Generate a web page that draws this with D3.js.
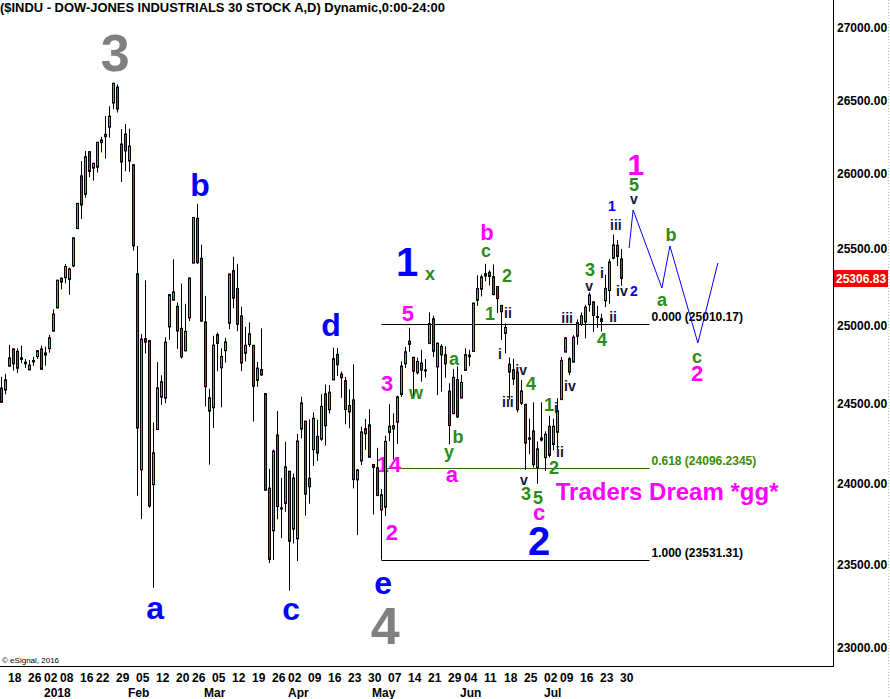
<!DOCTYPE html>
<html>
<head>
<meta charset="utf-8">
<script src="https://cdn.jsdelivr.net/npm/d3@7/dist/d3.min.js"></script>
<style>
  body { margin: 0; background: #fff; }
  svg { display: block; font-family: "Liberation Sans", Arial, sans-serif; font-weight: bold; }
</style>
</head>
<body>
<svg width="890" height="699"></svg>
<script>
// daily bars, $INDU
var dates = ["2017-12-13","2017-12-14","2017-12-15","2017-12-18","2017-12-19","2017-12-20","2017-12-21","2017-12-22","2017-12-26","2017-12-27","2017-12-28","2017-12-29",
  "2018-01-02","2018-01-03","2018-01-04","2018-01-05","2018-01-08","2018-01-09","2018-01-10","2018-01-11","2018-01-12","2018-01-16","2018-01-17","2018-01-18","2018-01-19","2018-01-22","2018-01-23","2018-01-24","2018-01-25","2018-01-26","2018-01-29","2018-01-30","2018-01-31",
  "2018-02-01","2018-02-02","2018-02-05","2018-02-06","2018-02-07","2018-02-08","2018-02-09","2018-02-12","2018-02-13","2018-02-14","2018-02-15","2018-02-16","2018-02-20","2018-02-21","2018-02-22","2018-02-23","2018-02-26","2018-02-27","2018-02-28",
  "2018-03-01","2018-03-02","2018-03-05","2018-03-06","2018-03-07","2018-03-08","2018-03-09","2018-03-12","2018-03-13","2018-03-14","2018-03-15","2018-03-16","2018-03-19","2018-03-20","2018-03-21","2018-03-22","2018-03-23","2018-03-26","2018-03-27","2018-03-28","2018-03-29",
  "2018-04-02","2018-04-03","2018-04-04","2018-04-05","2018-04-06","2018-04-09","2018-04-10","2018-04-11","2018-04-12","2018-04-13","2018-04-16","2018-04-17","2018-04-18","2018-04-19","2018-04-20","2018-04-23","2018-04-24","2018-04-25","2018-04-26","2018-04-27","2018-04-30",
  "2018-05-01","2018-05-02","2018-05-03","2018-05-04","2018-05-07","2018-05-08","2018-05-09","2018-05-10","2018-05-11","2018-05-14","2018-05-15","2018-05-16","2018-05-17","2018-05-18","2018-05-21","2018-05-22","2018-05-23","2018-05-24","2018-05-25","2018-05-29","2018-05-30","2018-05-31",
  "2018-06-01","2018-06-04","2018-06-05","2018-06-06","2018-06-07","2018-06-08","2018-06-11","2018-06-12","2018-06-13","2018-06-14","2018-06-15","2018-06-18","2018-06-19","2018-06-20","2018-06-21","2018-06-22","2018-06-25","2018-06-26","2018-06-27","2018-06-28","2018-06-29",
  "2018-07-02","2018-07-03","2018-07-05","2018-07-06","2018-07-09","2018-07-10","2018-07-11","2018-07-12","2018-07-13","2018-07-16","2018-07-17","2018-07-18","2018-07-19","2018-07-20","2018-07-23","2018-07-24","2018-07-25","2018-07-26","2018-07-27","2018-07-30"];

var opens = [24635,24600,24587,24739,24850,24834,24793,24765,24715,24766,24800,24850,
  24810,24851,24964,25115,25309,25312,25300,25389,25635,25987,25863,26150,26039,26045,26229,26268,26316,26481,26591,26202,26270,
  26087,26062,25338,24085,24916,24903,23992,24337,24541,24535,24991,25165,25125,24982,24837,25050,25407,25703,25439,
  25024,24453,24475,24942,24729,24838,25015,25358,25241,25063,24822,24878,24873,24648,24717,24564,23971,23708,24303,23842,23876,
  24076,23718,23659,24340,24390,24033,24211,24294,24276,24563,24462,24651,24815,24688,24647,24489,24524,24022,24140,24342,24367,
  24118,24098,23836,23853,24319,24341,24383,24559,24754,24879,24796,24697,24759,24713,24884,25044,24734,24866,24812,24580,24437,24654,
  24536,24712,24810,24833,25164,25236,25338,25347,25318,25254,25131,24949,24752,24716,24700,24503,24496,24276,24328,24095,24284,
  24161,24357,24243,24320,24526,24829,24787,24765,24931,25007,25023,25135,25154,25058,25027,25161,25227,25440,25525,25435];

var highs = [24669,24671,24690,24876,24851,24853,24871,24784,24778,24799,24840,24871,
  24864,24941,25105,25299,25311,25401,25378,25575,25804,26086,26154,26153,26072,26215,26251,26392,26459,26617,26609,26303,26338,
  26306,26062,25520,24946,25294,24904,24382,24765,24681,24925,25201,25432,25151,25273,25141,25310,25709,25800,25529,
  25193,24595,24934,24955,24853,24921,25336,25449,25402,25122,24992,25021,24873,24766,24982,24564,24092,24211,24454,24034,24260,
  24076,24062,24309,24545,24390,24401,24445,24399,24561,24622,24619,24858,24857,24705,24670,24591,24751,24089,24354,24404,24465,
  24118,24222,23966,24298,24497,24439,24551,24770,24863,24986,24796,24794,24844,24784,25086,25064,24892,24880,24866,24630,24722,24739,
  24684,24854,24844,25146,25327,25331,25402,25360,25399,25254,25131,25014,24795,24787,24718,24651,24496,24405,24509,24262,24509,
  24326,24424,24405,24535,24798,24926,24797,24938,25040,25085,25135,25216,25157,25128,25077,25331,25434,25595,25559,25501];

var lows = [24577,24508,24559,24739,24711,24695,24759,24728,24715,24741,24785,24719,
  24742,24825,24963,25112,25235,25275,25200,25380,25636,25698,25841,25978,25955,26009,26145,26103,26245,26439,26416,25946,26018,
  26014,25490,23924,23779,24820,23849,23361,24337,24491,24502,24908,25165,24850,24787,24835,25029,25407,25402,25023,
  24483,24117,24347,24706,24477,24761,24977,25112,24963,24707,24769,24863,24387,24607,24677,23955,23510,23529,23778,23663,23825,
  23344,23630,23523,24281,23801,23875,24109,24140,24266,24237,24438,24651,24676,24537,24370,24345,23969,23681,24114,24209,24163,
  23808,23921,23531,23797,24263,24149,24246,24543,24727,24831,24552,24686,24640,24666,24884,24798,24554,24577,24665,24244,24437,24409,
  24536,24712,24740,24833,25127,25189,25289,25261,25197,25082,24907,24820,24527,24619,24445,24491,24084,24182,24098,23998,24262,
  24077,24161,24206,24214,24526,24829,24681,24765,24876,24997,24918,25090,24959,24985,24962,25120,25142,25432,25388,25260];

var closes = [24585,24509,24652,24792,24754,24726,24782,24754,24746,24775,24838,24719,
  24824,24922,25075,25295,25283,25385,25369,25574,25803,25792,26116,26017,26072,26214,26211,26252,26392,26617,26440,26080,26155,
  26188,25521,24346,24913,24893,23860,24191,24601,24640,24893,25201,25219,24965,24798,24963,25310,25709,25410,25029,
  24608,24538,24874,24885,24801,24895,25336,25178,25008,24759,24873,24947,24611,24727,24683,23958,23533,24202,23857,23849,24103,
  23644,24034,24265,24505,23933,23979,24408,24189,24483,24360,24573,24787,24748,24665,24463,24448,24024,24084,24322,24311,24163,
  24100,23925,23930,24263,24358,24361,24543,24740,24831,24899,24706,24769,24714,24715,25013,24834,24886,24811,24753,24362,24668,24416,
  24635,24813,24799,25146,25241,25317,25322,25320,25201,25175,25090,24988,24701,24657,24462,24581,24252,24284,24117,24216,24271,
  24307,24175,24357,24456,24776,24920,24700,24925,25019,25064,25120,25199,25065,25058,25044,25242,25415,25527,25451,25306.83];

var yTicks = [23000, 23500, 24000, 24500, 25000, 25500, 26000, 26500, 27000];

var weekTickDates = ["2017-12-18","2017-12-26","2018-01-02","2018-01-08","2018-01-16","2018-01-22","2018-01-29","2018-02-05","2018-02-12","2018-02-20","2018-02-26",
  "2018-03-05","2018-03-12","2018-03-19","2018-03-26","2018-04-02","2018-04-09","2018-04-16","2018-04-23","2018-04-30","2018-05-07","2018-05-14","2018-05-21","2018-05-29",
  "2018-06-04","2018-06-11","2018-06-18","2018-06-25","2018-07-02","2018-07-09","2018-07-16","2018-07-23","2018-07-30"];
var monthTickDates = ["2018-01-02","2018-02-01","2018-03-01","2018-04-02","2018-05-01","2018-06-01","2018-07-02"];
var monthTickLabels = ["2018","Feb","Mar","Apr","May","Jun","Jul"];

// fibonacci retracement (May 3 low to high)
var fibHigh = 25010.17, fibLow = 23531.31;
var fibRatios = [0, 0.618, 1];
var fibLabels = ["0.000 (25010.17)", "0.618 (24096.2345)", "1.000 (23531.31)"];
var fibStartDay = 96, fibEndDay = 163;

// projected path after last bar (bar index, price)
var projDays = [157.9, 158.9, 166.1, 168.1, 175.1, 180.1];
var projPrices = [25507, 25759, 25244, 25520, 24888, 25408];

// wave labels: text, bar index, price, degree
var waveLabels = [
  ["3", 29.4, 26833, "cycle"], ["4", 96.9, 23137, "cycle"],
  ["a", 39.4, 23245, "primary"], ["b", 50.6, 25926, "primary"], ["c", 73.4, 23239, "primary"],
  ["d", 83.4, 25010, "primary"], ["e", 96.4, 23396, "primary"],
  ["1", 102.4, 25414, "primaryNum"], ["2", 135.4, 23650, "primaryNum"],
  ["1", 159.6, 26067, "interBig"],
  ["5", 102.6, 25082, "inter"], ["3", 97.4, 24631, "inter"], ["14", 97.9, 24121, "inter"], ["2", 98.6, 23700, "inter"],
  ["a", 113.6, 24059, "inter"], ["b", 122.4, 25612, "inter"], ["c", 135.4, 23825, "inter"], ["2", 174.9, 24695, "inter"],
  ["w", 104.6, 24574, "minor"], ["x", 108.1, 25342, "minor"], ["a", 114.1, 24791, "minor"], ["y", 112.9, 24202, "minor"],
  ["b", 115.1, 24290, "minor"], ["c", 122.1, 25487, "minor"], ["2", 127.4, 25329, "minor"], ["1", 123.1, 25075, "minor"],
  ["4", 133.4, 24631, "minor"], ["1", 137.9, 24492, "minor"], ["2", 139.1, 24102, "minor"], ["3", 132.1, 23935, "minor"],
  ["5", 135.1, 23910, "minor"], ["3", 148.1, 25365, "minor"], ["4", 151.1, 24913, "minor"], ["5", 159.1, 25926, "minor"],
  ["a", 166.1, 25172, "minor"], ["b", 168.4, 25593, "minor"], ["c", 174.9, 24804, "minor"],
  ["ii", 127.6, 25082, "minute"], ["i", 125.6, 24817, "minute"], ["iv", 130.9, 24714, "minute"], ["iii", 127.6, 24511, "minute"],
  ["i", 139.6, 24473, "minute"], ["ii", 140.6, 24196, "minute"], ["v", 131.6, 24021, "minute"], ["iv", 143.1, 24613, "minute"],
  ["iii", 142.4, 25049, "minute"], ["v", 147.9, 25258, "minute"], ["i", 151.1, 25342, "minute"], ["ii", 153.9, 25055, "minute"],
  ["iv", 156.1, 25225, "minute"], ["iii", 154.6, 25659, "minute"], ["v", 159.1, 25832, "minute"],
  ["1", 153.6, 25785, "minuteBlue"], ["2", 159.1, 25225, "minuteBlue"]
];

var degreeStyle = {
  cycle:      { color: "#808080", size: 52 },
  primary:    { color: "#0000ff", size: 32 },
  primaryNum: { color: "#0000ff", size: 40 },
  interBig:   { color: "#ff00ff", size: 30 },
  inter:      { color: "#ff00ff", size: 22 },
  minor:      { color: "#2a8c14", size: 18 },
  minute:     { color: "#14143c", size: 14 },
  minuteBlue: { color: "#0000ff", size: 14 }
};

var svg = d3.select("svg");
var plotRight = 833, plotBottom = 666;

var x = d3.scaleLinear().domain([0, dates.length - 1]).range([-2.5, 621.5]);
var y = d3.scaleLog().domain([23000, 27000]).range([648, 28]);
var dayIndex = function(s) { return dates.indexOf(s); };

svg.append("defs").append("clipPath").attr("id", "plot")
  .append("rect").attr("x", 0).attr("y", 0).attr("width", plotRight).attr("height", plotBottom);

// title
svg.append("text").attr("x", 0).attr("y", 12).attr("font-size", 13)
  .attr("textLength", 445).attr("lengthAdjust", "spacingAndGlyphs")
  .text("($INDU - DOW-JONES INDUSTRIALS 30 STOCK A,D) Dynamic,0:00-24:00");

var plot = svg.append("g").attr("clip-path", "url(#plot)");

// fib lines
var fibPrices = fibRatios.map(function(r) { return fibHigh - r * (fibHigh - fibLow); });
var fibColors = ["#000", "#1e6e0a", "#000"];
plot.selectAll(".fib").data(fibPrices).enter().append("line")
  .attr("x1", x(fibStartDay)).attr("x2", x(fibEndDay))
  .attr("y1", function(d) { return Math.round(y(d)) + 0.5; })
  .attr("y2", function(d) { return Math.round(y(d)) + 0.5; })
  .attr("stroke", function(d, i) { return fibColors[i]; }).attr("stroke-width", 1);
plot.selectAll(".fibLabel").data(fibLabels).enter().append("text")
  .attr("x", x(fibEndDay) + 2).attr("y", function(d, i) { return y(fibPrices[i]) - 3; })
  .attr("font-size", 12)
  .attr("fill", function(d, i) { return i == 1 ? "#3c8c00" : "#000"; })
  .text(function(d) { return d; });

// wave labels
plot.selectAll(".wave").data(waveLabels).enter().append("text")
  .attr("x", function(d) { return x(d[1]); })
  .attr("y", function(d) { return y(d[2]); })
  .attr("dy", "0.36em")
  .attr("text-anchor", "middle")
  .attr("font-size", function(d) { return degreeStyle[d[3]].size; })
  .attr("fill", function(d) { return degreeStyle[d[3]].color; })
  .text(function(d) { return d[0]; });

plot.append("text").attr("x", x(167.4)).attr("y", y(23953)).attr("dy", "0.36em")
  .attr("text-anchor", "middle").attr("font-size", 24).attr("fill", "#ff00ff")
  .text("Traders Dream *gg*");

// candles
var idx = d3.range(dates.length);
plot.selectAll(".wick").data(idx).enter().append("line")
  .attr("x1", function(i) { return x(i); }).attr("x2", function(i) { return x(i); })
  .attr("y1", function(i) { return y(highs[i]); }).attr("y2", function(i) { return y(lows[i]); })
  .attr("stroke", "#000").attr("stroke-width", 1);
plot.selectAll(".body").data(idx).enter().append("rect")
  .attr("x", function(i) { return x(i) - 1; })
  .attr("width", 2)
  .attr("y", function(i) { return y(Math.max(opens[i], closes[i])); })
  .attr("height", function(i) { return Math.max(1, Math.abs(y(opens[i]) - y(closes[i]))); })
  .attr("fill", function(i) { return closes[i] >= opens[i] ? "#22d022" : "#e02020"; })
  .attr("stroke", "#000").attr("stroke-width", 1);

// projection
var proj = d3.line().x(function(d) { return x(d[0]); }).y(function(d) { return y(d[1]); });
plot.append("path").datum(d3.zip(projDays, projPrices))
  .attr("d", proj).attr("fill", "none").attr("stroke", "#0000ff").attr("stroke-width", 1);

// frame
svg.append("line").attr("x1", plotRight + 0.5).attr("x2", plotRight + 0.5).attr("y1", 0).attr("y2", plotBottom + 1)
  .attr("stroke", "#000");
svg.append("line").attr("x1", 0).attr("x2", plotRight + 1).attr("y1", plotBottom + 0.5).attr("y2", plotBottom + 0.5)
  .attr("stroke", "#000");
svg.append("line").attr("x1", 888.5).attr("x2", 888.5).attr("y1", 0).attr("y2", 699)
  .attr("stroke", "#bbb").attr("stroke-dasharray", "1,2");

// y axis
var yAxis = d3.axisRight(y).tickValues(yTicks).tickFormat(d3.format(".2f")).tickSize(0).tickPadding(4);
var ya = svg.append("g").attr("transform", "translate(" + plotRight + ",0)").call(yAxis);
ya.select(".domain").remove();
ya.attr("font-family", null).attr("font-size", 12);
ya.selectAll("text").attr("fill", "#000");

// last price box
var last = closes[closes.length - 1];
svg.append("rect").attr("x", 834).attr("y", Math.round(y(last)) - 8).attr("width", 54).attr("height", 17).attr("fill", "#ff0000");
svg.append("text").attr("x", 836).attr("y", y(last)).attr("dy", "0.36em").attr("font-size", 12)
  .attr("fill", "#fff").text(d3.format(".2f")(last));

// x axis
var fmtDay = d3.timeFormat("%d"), parse = d3.timeParse("%Y-%m-%d");
svg.selectAll(".wk").data(weekTickDates).enter().append("text")
  .attr("x", function(d) { return x(dayIndex(d)) - 1.5; }).attr("y", 682)
  .attr("font-size", 12).text(function(d) { return fmtDay(parse(d)); });
svg.selectAll(".mo").data(monthTickDates).enter().append("text")
  .attr("x", function(d) { return x(dayIndex(d)) - 1.5; }).attr("y", 697)
  .attr("font-size", 12).text(function(d, i) { return monthTickLabels[i]; });

svg.append("text").attr("x", 2).attr("y", 663).attr("font-size", 8).attr("font-weight", "normal")
  .text("\u00a9 eSignal, 2016");
</script>
</body>
</html>
